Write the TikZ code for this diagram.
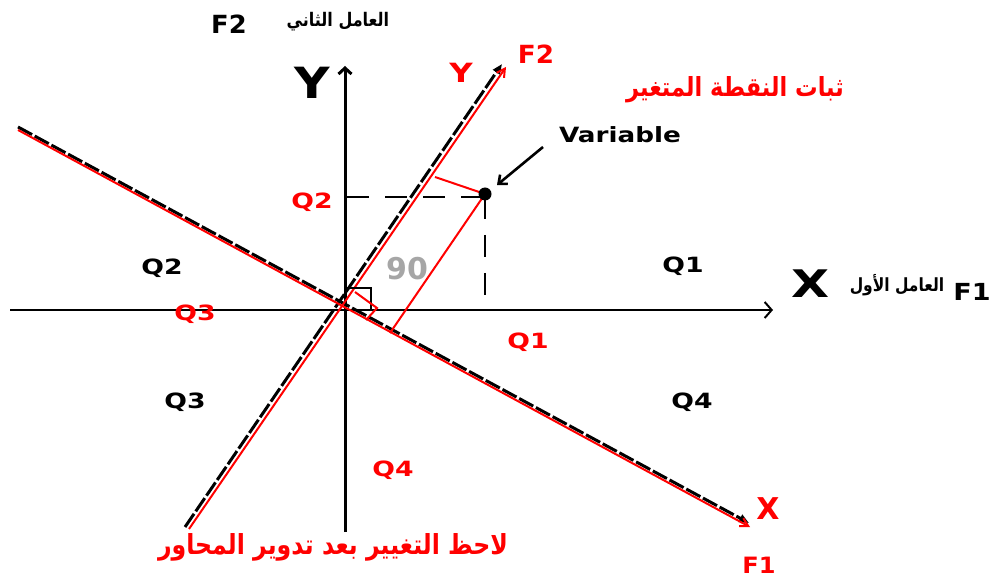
\documentclass[tikz,border=0pt]{standalone}
\usepackage{fontspec}
\usepackage{graphicx}
\setmainfont{DejaVu Sans}
\newfontfamily\arabicfont[Script=Arabic]{DejaVu Sans}
\TeXXeTstate=1
\usetikzlibrary{arrows.meta}
\newcommand{\hsc}[2]{\scalebox{#1}[1]{#2}}
\newcommand{\vsc}[1]{\scalebox{1}[1.17]{#1}}
\tikzset{
  bk/.style={font=\bfseries\fontsize{#1}{#1}\selectfont, inner sep=0pt},
  arb/.style={font=\arabicfont\bfseries\fontsize{#1}{#1}\selectfont, inner sep=0pt},
  axis/.style={black, line width=#1},
  rotblack/.style={black, line width=3pt, dash pattern=on 16pt off 3pt, -{Triangle[length=10pt,width=8pt]}},
  rotred/.style={red, line width=2pt, -{Straight Barb[length=8pt,width=9pt]}},
  proj/.style={black, line width=2.6pt, dash pattern=on 22pt off 16pt},
  projred/.style={red, line width=2pt},
}
\begin{document}
\begin{tikzpicture}[x=1pt,y=-1pt]
\useasboundingbox[fill=white] (0,0) rectangle (994,577);

% main axes
\coordinate (xl) at (10,310);
\coordinate (xr) at (773,310);
\coordinate (yb) at (345,532);
\coordinate (yt) at (345,66);
\draw[axis=2pt, -{Straight Barb[length=7pt,width=16pt]}] (xl) -- (xr);
\draw[axis=3pt, -{Straight Barb[length=6pt,width=13pt]}] (yb) -- (yt);

% rotated axes: black dashed under red
\coordinate (f1bs) at (18,127);
\coordinate (f1be) at (749,523);
\coordinate (f1rs) at (18,130);
\coordinate (f1re) at (750,527);
\coordinate (f2bs) at (185,527);
\coordinate (f2be) at (502,64);
\coordinate (f2rs) at (189,529);
\coordinate (f2re) at (506,67);
\draw[rotblack] (f1bs) -- (f1be);
\draw[rotblack] (f2bs) -- (f2be);
\draw[rotred] (f1rs) -- (f1re);
\draw[rotred] (f2rs) -- (f2re);

% projections
\coordinate (P) at (485,194);
\coordinate (py) at (347,197);
\coordinate (pyx) at (485,197);
\coordinate (px) at (485,309);
\draw[proj] (py) -- (pyx);
\draw[proj] (pyx) -- (px);
\coordinate (pf2) at (435,177);
\coordinate (pf1) at (390,333);
\draw[projred] (P) -- (pf2);
\draw[projred] (P) -- (pf1);
\fill[black] (P) circle (6.5);

% right angle markers
\coordinate (O) at (344,310);
\coordinate (s1) at (345,288);
\coordinate (s2) at (371,288);
\coordinate (s3) at (371,310);
\draw[black, line width=2.6pt] (s1) -- (s2) -- (s3);
\coordinate (r1) at (355,292);
\coordinate (r2) at (377,308);
\coordinate (r3) at (366,320);
\draw[red, line width=2pt] (r1) -- (r2) -- (r3);

% variable arrow
\coordinate (va) at (543,147);
\coordinate (vb) at (497,185);
\draw[black, line width=2.6pt, -{Straight Barb[length=7pt,width=12pt]}] (va) -- (vb);
\node[bk=21] (var) at (620,135) {\hsc{1.25}{Variable}};

% 90
\node[font=\bfseries\fontsize{30}{30}\selectfont, text=black!35, inner sep=0pt] (ninety) at (407,269) {90};

% axis labels
\node[bk=43] (Ybig) at (312,83) {\hsc{1.14}{Y}};
\node[bk=38] (Xbig) at (811,284) {\hsc{1.3}{X}};
\node[bk=25] (F2b) at (229,24) {\hsc{1.03}{F2}};
\node[bk=23.5] (F1b) at (972,292) {\hsc{1.15}{F1}};
\node[arb=16] (arF2) at (338,22) {\vsc{\beginR العامل الثاني\endR}};
\node[arb=15.5] (arF1) at (897,285) {\vsc{\beginR العامل الأول\endR}};

\node[bk=25, text=red] (F2r) at (536,54) {\hsc{1.05}{F2}};
\node[bk=26.5, text=red] (Yr) at (461,73) {\hsc{1.22}{Y}};
\node[bk=30, text=red] (Xr) at (768,509) {X};
\node[bk=22.5, text=red] (F1r) at (759,565) {\hsc{1.07}{F1}};
\node[arb=22.5, text=red] (artop) at (735,90) {\vsc{\beginR ثبات النقطة المتغير\endR}};
\node[arb=23.6, text=red] (arbot) at (333,547) {\vsc{\beginR لاحظ التغيير بعد تدوير المحاور\endR}};

% quadrant labels
\node[bk=21] (q2b) at (162,268) {\hsc{1.27}{Q2}};
\node[bk=21] (q1b) at (683,266) {\hsc{1.27}{Q1}};
\node[bk=21] (q3b) at (185,402) {\hsc{1.27}{Q3}};
\node[bk=21] (q4b) at (692,402) {\hsc{1.27}{Q4}};
\node[bk=21, text=red] (q2r) at (312,202) {\hsc{1.27}{Q2}};
\node[bk=21, text=red] (q3r) at (195,314) {\hsc{1.27}{Q3}};
\node[bk=21, text=red] (q1r) at (528,342) {\hsc{1.27}{Q1}};
\node[bk=21, text=red] (q4r) at (393,470) {\hsc{1.27}{Q4}};
\end{tikzpicture}
\end{document}
